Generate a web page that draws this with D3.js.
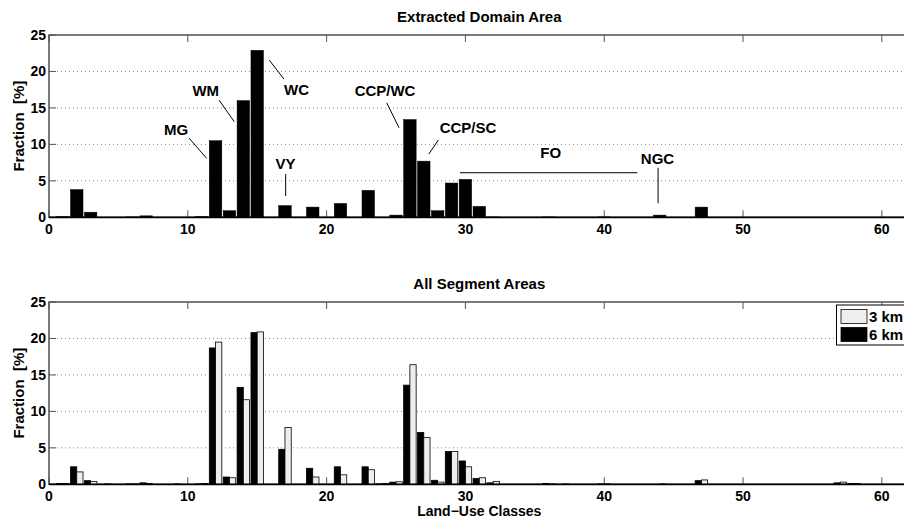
<!DOCTYPE html>
<html>
<head>
<meta charset="utf-8">
<script src="https://cdn.jsdelivr.net/npm/d3@7"></script>
<style>
  body { margin: 0; background: #fff; }
  svg text { font-family: "Liberation Sans", Arial, sans-serif; font-weight: bold; }
</style>
</head>
<body>
<svg id="chart" width="904" height="518"></svg>
<script>
// tick labels
const xTicks = [0, 10, 20, 30, 40, 50, 60];
const yTicks = [0, 5, 10, 15, 20, 25];

// extracted domain area (class -> fraction %)
const domainClasses = [1, 2, 3, 6, 7, 11, 12, 13, 14, 15, 17, 19, 21, 23, 25, 26, 27, 28, 29, 30, 31, 32, 36, 40, 44, 47];
const domainValues  = [0.1, 3.8, 0.7, 0.05, 0.2, 0.1, 10.5, 0.9, 16.0, 22.9, 1.6, 1.4, 1.9, 3.7, 0.3, 13.4, 7.7, 0.9, 4.7, 5.2, 1.5, 0.05, 0.05, 0.05, 0.3, 1.4];

// all segment areas, two resolutions
const segClasses = [1, 2, 3, 4, 6, 7, 9, 11, 12, 13, 14, 15, 17, 19, 21, 23, 24, 25, 26, 27, 28, 29, 30, 31, 32, 36, 37, 40, 44, 47, 57, 58];
const seg6km = [0.1, 2.4, 0.5, 0, 0.05, 0.2, 0, 0.05, 18.7, 1.0, 13.3, 20.8, 4.8, 2.2, 2.4, 2.4, 0.05, 0.3, 13.6, 7.1, 0.55, 4.5, 3.2, 0.8, 0.2, 0.1, 0, 0.05, 0, 0.5, 0.2, 0.1];
const seg3km = [0.1, 1.7, 0.4, 0.05, 0.05, 0.1, 0.05, 0.1, 19.5, 0.9, 11.6, 20.9, 7.8, 1.0, 1.3, 2.0, 0.1, 0.35, 16.4, 6.4, 0.3, 4.5, 2.4, 0.9, 0.4, 0.05, 0.05, 0.05, 0.05, 0.6, 0.3, 0.1];

// annotations in data coords: label pos, then line start/end
const annoLabels = ["MG", "WM", "WC", "VY", "CCP/WC", "CCP/SC", "FO", "NGC"];
const annoText = [[9.15, 11.95], [11.29, 17.34], [17.83, 17.53], [17.04, 7.4], [24.21, 17.34], [30.19, 12.27], [36.15, 8.9], [43.84, 7.99]];
const annoLine = [
  [[10.09, 10.86], [11.36, 8.08]],
  [[12.25, 16.07], [13.35, 13.1]],
  [[15.87, 21.55], [16.93, 18.95]],
  [[17.05, 5.93], [17.05, 2.92]],
  [[24.33, 15.7], [25.22, 12.27]],
  [[28.05, 10.59], [27.36, 8.67]],
  [[29.61, 6.11], [42.39, 6.11]],
  [[43.88, 6.79], [43.88, 1.92]]
];

const svg = d3.select("#chart");
const left = 49, right = 909.6;
const barW = 0.9;

const x = d3.scaleLinear().domain([0, 62]).range([left, right]);

// draw one panel frame: grid, box, ticks, labels
function drawPanel(top, bottom, title, xlabel) {
  const y = d3.scaleLinear().domain([0, 25]).range([bottom, top]);
  const g = svg.append("g");

  g.selectAll("line.grid")
    .data(yTicks.filter(t => t > 0 && t < 25))
    .join("line")
    .attr("x1", left).attr("x2", right)
    .attr("y1", d => y(d)).attr("y2", d => y(d))
    .attr("stroke", "#888").attr("stroke-width", 1)
    .attr("stroke-dasharray", "1,3");

  g.append("rect")
    .attr("x", left).attr("y", top)
    .attr("width", right - left).attr("height", bottom - top)
    .attr("fill", "none").attr("stroke", "#222").attr("stroke-width", 1.2);

  // inward ticks
  const tl = 7;
  g.selectAll("line.xt")
    .data(xTicks)
    .join("line")
    .attr("x1", d => x(d)).attr("x2", d => x(d))
    .attr("y1", bottom).attr("y2", bottom - tl)
    .attr("stroke", "#555");
  g.selectAll("line.xt2")
    .data(xTicks)
    .join("line")
    .attr("x1", d => x(d)).attr("x2", d => x(d))
    .attr("y1", top).attr("y2", top + tl)
    .attr("stroke", "#555");
  g.selectAll("line.yt")
    .data(yTicks)
    .join("line")
    .attr("x1", left).attr("x2", left + tl)
    .attr("y1", d => y(d)).attr("y2", d => y(d))
    .attr("stroke", "#555");

  g.selectAll("text.xl")
    .data(xTicks)
    .join("text")
    .attr("x", d => x(d)).attr("y", bottom + 16.5)
    .attr("text-anchor", "middle")
    .attr("font-size", 14)
    .text(d => d);
  g.selectAll("text.yl")
    .data(yTicks)
    .join("text")
    .attr("x", left - 3).attr("y", d => y(d) + 5)
    .attr("text-anchor", "end")
    .attr("font-size", 14)
    .text(d => d);

  g.append("text")
    .attr("x", (left + right) / 2).attr("y", top - 13)
    .attr("text-anchor", "middle").attr("font-size", 15)
    .text(title);

  g.append("text")
    .attr("transform", `translate(23.5,${(top + bottom) / 2}) rotate(-90)`)
    .attr("text-anchor", "middle").attr("font-size", 15)
    .text("Fraction\u00a0\u00a0[%]");

  if (xlabel) {
    g.append("text")
      .attr("x", (left + right) / 2).attr("y", bottom + 32)
      .attr("text-anchor", "middle").attr("font-size", 14)
      .text(xlabel);
  }
  return { g, y };
}

// top panel
const p1 = drawPanel(35, 217.3, "Extracted Domain Area", null);
p1.g.selectAll("rect.bar")
  .data(domainClasses.map((c, i) => ({ c, v: domainValues[i] })))
  .join("rect")
  .attr("x", d => x(d.c - barW / 2))
  .attr("width", x(barW) - x(0))
  .attr("y", d => p1.y(d.v))
  .attr("height", d => p1.y(0) - p1.y(d.v))
  .attr("fill", "#000").attr("stroke", "#000").attr("stroke-width", 0.5);

annoLine.forEach((l, i) => {
  p1.g.append("line")
    .attr("x1", x(l[0][0])).attr("y1", p1.y(l[0][1]))
    .attr("x2", x(l[1][0])).attr("y2", p1.y(l[1][1]))
    .attr("stroke", "#000").attr("stroke-width", 1);
  p1.g.append("text")
    .attr("x", x(annoText[i][0])).attr("y", p1.y(annoText[i][1]) + 5.3)
    .attr("text-anchor", "middle").attr("font-size", 15)
    .text(annoLabels[i]);
});

// bottom panel
const p2 = drawPanel(302, 484.3, "All Segment Areas", "Land\u2212Use Classes");
const half = barW / 2;
const segData = segClasses.map((c, i) => ({ c, a: seg6km[i], b: seg3km[i] }));
p2.g.selectAll("rect.b6")
  .data(segData)
  .join("rect")
  .attr("x", d => x(d.c - half))
  .attr("width", x(half) - x(0))
  .attr("y", d => p2.y(d.a))
  .attr("height", d => p2.y(0) - p2.y(d.a))
  .attr("fill", "#000").attr("stroke", "#000").attr("stroke-width", 0.8);
p2.g.selectAll("rect.b3")
  .data(segData)
  .join("rect")
  .attr("x", d => x(d.c))
  .attr("width", x(half) - x(0))
  .attr("y", d => p2.y(d.b))
  .attr("height", d => p2.y(0) - p2.y(d.b))
  .attr("fill", "#eeeeee").attr("stroke", "#000").attr("stroke-width", 0.8);

// thicker baseline on both panels
[p1, p2].forEach(p => {
  p.g.append("line")
    .attr("x1", left).attr("x2", right)
    .attr("y1", p.y(0)).attr("y2", p.y(0))
    .attr("stroke", "#000").attr("stroke-width", 1.8);
});

// legend
const leg = svg.append("g").attr("transform", "translate(836.5,305)");
leg.append("rect")
  .attr("width", 80).attr("height", 40)
  .attr("fill", "#fff").attr("stroke", "#000").attr("stroke-width", 1);
const legNames = ["3 km", "6 km"];
const legFill = ["#eeeeee", "#000"];
legNames.forEach((n, i) => {
  leg.append("rect")
    .attr("x", 4.5).attr("y", 4.5 + i * 18)
    .attr("width", 26).attr("height", 14)
    .attr("fill", legFill[i]).attr("stroke", "#000").attr("stroke-width", 0.8);
  leg.append("text")
    .attr("x", 32.5).attr("y", 16.5 + i * 18)
    .attr("font-size", 15)
    .text(n);
});
</script>
</body>
</html>
